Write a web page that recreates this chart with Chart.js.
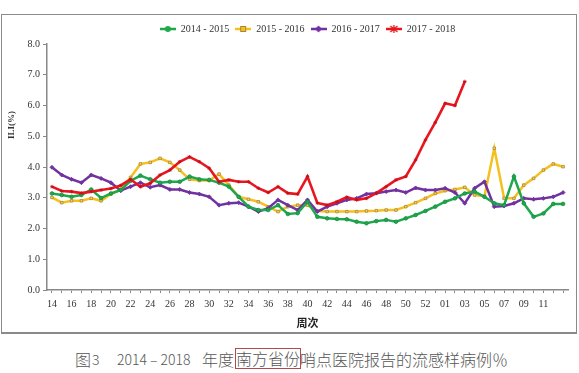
<!DOCTYPE html>
<html><head><meta charset="utf-8">
<script src="https://cdn.jsdelivr.net/npm/chart.js@4"></script>
<style>
html,body{margin:0;padding:0;background:#fff;}
#wrap{position:relative;width:579px;height:373px;overflow:hidden;background:#fff;}
#frame{position:absolute;left:1px;top:14px;width:576px;height:320px;border:1px solid #8a8a8a;border-bottom:2px solid #8a8a8a;box-sizing:border-box;}
#cv{position:absolute;left:0;top:0;}
#cap{position:absolute;left:0;top:349px;width:579px;height:22px;font-family:"Noto Sans CJK SC";font-size:16px;color:#555;line-height:20px;font-weight:300;}
#cap span{position:absolute;top:0;white-space:pre;}
#cap .d{font-size:14px;top:0px;}
#cap .hl{border:1px solid #b5484a;top:-1px;line-height:18px;padding:0 0 1px 0;}
</style></head>
<body><div id="wrap">
<div id="frame"></div>
<canvas id="cv" width="579" height="335"></canvas>
<div id="cap"><span style="left:75px">图</span><span class="d" style="left:92px">3</span><span class="d" style="left:117px">2014 – 2018</span><span style="left:202px">年度</span><span class="hl" style="left:235px">南方省份</span><span style="left:300px">哨点医院报告的流感样病例％</span></div>
</div>
<script>
const weeks = ['14','15','16','17','18','19','20','21','22','23','24','25','26','27','28','29','30','31','32','33','34','35','36','37','38','39','40','41','42','43','44','45','46','47','48','49','50','51','52','53','01','02','03','04','05','06','07','08','09','10','11','12','13'];
const yTicks = [0,1,2,3,4,5,6,7,8];
const seriesNames = ['2014 - 2015','2015 - 2016','2016 - 2017','2017 - 2018'];
const ili1415 = [3.14,3.09,3.03,3.09,3.27,2.99,3.14,3.25,3.55,3.72,3.6,3.49,3.52,3.52,3.69,3.6,3.58,3.49,3.36,3.03,2.71,2.6,2.6,2.76,2.47,2.5,2.87,2.38,2.33,2.31,2.3,2.22,2.17,2.24,2.28,2.22,2.33,2.44,2.57,2.71,2.87,2.98,3.14,3.2,3.03,2.82,2.76,3.69,2.82,2.38,2.49,2.8,2.8];
const ili1516 = [3.01,2.84,2.9,2.9,2.98,2.9,3.12,3.27,3.66,4.1,4.15,4.28,4.15,3.9,3.6,3.56,3.56,3.77,3.41,3.03,2.95,2.87,2.71,2.55,2.71,2.76,2.76,2.57,2.55,2.55,2.55,2.55,2.57,2.58,2.6,2.6,2.71,2.84,2.98,3.14,3.23,3.27,3.34,3.09,3.05,4.61,2.98,2.98,3.41,3.63,3.9,4.1,4.01];
const ili1617 = [3.99,3.74,3.6,3.49,3.74,3.63,3.49,3.23,3.36,3.49,3.34,3.41,3.27,3.27,3.17,3.12,3.03,2.76,2.82,2.84,2.71,2.55,2.66,2.93,2.76,2.6,2.93,2.55,2.71,2.82,2.93,2.98,3.12,3.15,3.2,3.25,3.17,3.32,3.25,3.25,3.31,3.17,2.82,3.31,3.52,2.71,2.73,2.82,2.98,2.95,2.98,3.03,3.17];
const ili1718 = [3.36,3.22,3.2,3.15,3.2,3.25,3.3,3.4,3.6,3.36,3.47,3.74,3.9,4.17,4.33,4.17,3.96,3.52,3.58,3.52,3.52,3.31,3.17,3.36,3.15,3.12,3.69,2.83,2.76,2.87,3.02,2.93,2.98,3.15,3.36,3.58,3.69,4.23,4.88,5.45,6.07,6.0,6.78];

const COLORS = ['#1fa84e','#f6c01c','#7132a0','#e9161f'];

function icon(i){
  const c=document.createElement('canvas'); c.width=16; c.height=8;
  const g=c.getContext('2d');
  g.strokeStyle=COLORS[i]; g.lineWidth=2.5;
  g.beginPath(); g.moveTo(0,4); g.lineTo(16,4); g.stroke();
  g.lineWidth=1;
  if(i===0){g.fillStyle=COLORS[0]; g.beginPath(); g.arc(8,4,3,0,Math.PI*2); g.fill();}
  else if(i===1){g.fillStyle=COLORS[1]; g.fillRect(5.5,1.5,5,5); g.strokeStyle='#a8873a'; g.strokeRect(5.5,1.5,5,5);}
  else if(i===2){g.fillStyle=COLORS[2]; g.beginPath(); g.moveTo(8,0.5); g.lineTo(11.5,4); g.lineTo(8,7.5); g.lineTo(4.5,4); g.closePath(); g.fill();}
  else {g.strokeStyle=COLORS[3]; g.lineWidth=1.3; g.beginPath(); g.moveTo(8,0); g.lineTo(8,8); g.moveTo(4.5,1); g.lineTo(11.5,7); g.moveTo(11.5,1); g.lineTo(4.5,7); g.stroke();}
  return c;
}

const yTitle = {id:'yTitle', afterDraw(chart){
  const c=chart.ctx; c.save(); c.translate(12,125); c.rotate(-Math.PI/2);
  c.font='bold 9px "Liberation Serif"'; c.fillStyle='#333'; c.textAlign='center'; c.textBaseline='middle';
  c.fillText('ILI(%)',0,0); c.restore();
}};

const serif = {family:'"Liberation Serif", "Times New Roman", serif', size:10};

new Chart(document.getElementById('cv'), {
  type:'line',
  data:{labels:weeks, datasets:[
    {label:seriesNames[0], data:ili1415, borderColor:COLORS[0], backgroundColor:COLORS[0], pointStyle:'circle', pointRadius:1.8, pointBorderColor:'#168a3e', pointBackgroundColor:COLORS[0], pointBorderWidth:0.8, borderWidth:2.5, order:1},
    {label:seriesNames[1], data:ili1516, borderColor:COLORS[1], backgroundColor:COLORS[1], pointStyle:'rect', pointRadius:1.8, pointBorderColor:'#a8873a', pointBackgroundColor:'#f9d35a', pointBorderWidth:0.8, borderWidth:2.5, order:3},
    {label:seriesNames[2], data:ili1617, borderColor:COLORS[2], backgroundColor:COLORS[2], pointStyle:'rectRot', pointRadius:2, pointBorderColor:COLORS[2], pointBackgroundColor:COLORS[2], pointBorderWidth:0.8, borderWidth:2.5, order:2},
    {label:seriesNames[3], data:ili1718, borderColor:COLORS[3], backgroundColor:COLORS[3], pointStyle:'star', pointRadius:1.8, pointBorderColor:'#c0101a', pointBorderWidth:0.8, borderWidth:2.6, order:0}
  ]},
  options:{
    responsive:false, animation:false,
    layout:{padding:{left:0,right:11,top:18,bottom:0}},
    plugins:{
      tooltip:{enabled:false},
      legend:{position:'top', fullSize:false,
        labels:{usePointStyle:true, pointStyleWidth:16, boxHeight:8, padding:6, color:'#333', font:serif,
          generateLabels:(chart)=>chart.data.datasets.map((ds,i)=>({text:ds.label, pointStyle:icon(i), fillStyle:'rgba(0,0,0,0)', strokeStyle:'rgba(0,0,0,0)', lineWidth:0, hidden:false, datasetIndex:i, fontColor:'#333'}))
        }}
    },
    scales:{
      x:{type:'category', offset:true,
        grid:{drawOnChartArea:false, drawTicks:true, tickLength:3, color:'#888', lineWidth:1},
        border:{color:'#888', width:1.5},
        ticks:{autoSkip:false, maxRotation:0, minRotation:0, padding:5, color:'#333', font:serif,
          callback:(v,i)=> (i%2===0 && i<52) ? weeks[i] : ''},
        title:{display:true, text:'周次', color:'#222', font:{family:'"Noto Sans CJK SC"', size:11, weight:'bold'}, padding:{top:0,bottom:6}},
        afterFit:(s)=>{s.height=45;}
      },
      y:{min:yTicks[0], max:yTicks[yTicks.length-1],
        grid:{drawOnChartArea:false, drawTicks:true, tickLength:4, color:'#888'},
        border:{color:'#888', width:1.5},
        ticks:{stepSize:1, padding:3, color:'#333', font:serif, callback:(v)=>Number(v).toFixed(1)},
        afterFit:(s)=>{s.width=47;}
      }
    }
  },
  plugins:[yTitle]
});
</script>
</body></html>
